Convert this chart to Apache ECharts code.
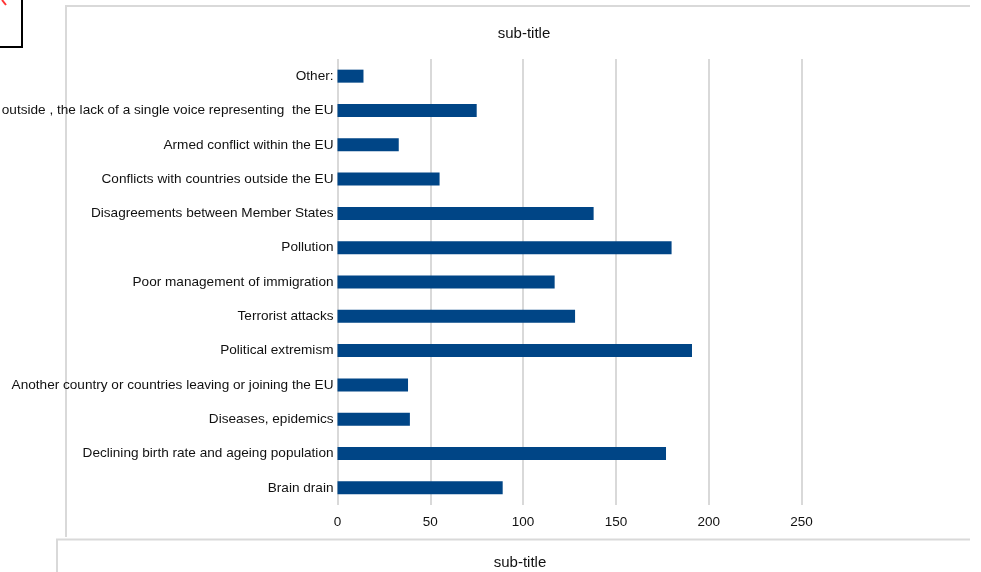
<!DOCTYPE html>
<html>
<head>
<meta charset="utf-8">
<script src="https://cdn.jsdelivr.net/npm/echarts@6/dist/echarts.min.js"></script>
<style>
html,body{margin:0;padding:0;background:#fff;}
#chart{width:981px;height:572px;}
</style>
</head>
<body>
<div id="chart"></div>
<script>
var categories = [
  "Brain drain",
  "Declining birth rate and ageing population",
  "Diseases, epidemics",
  "Another country or countries leaving or joining the EU",
  "Political extremism",
  "Terrorist attacks",
  "Poor management of immigration",
  "Pollution",
  "Disagreements between Member States",
  "Conflicts with countries outside the EU",
  "Armed conflict within the EU",
  "outside , the lack of a single voice representing  the EU",
  "Other:"
];
var values = [89, 177, 39, 38, 191, 128, 117, 180, 138, 55, 33, 75, 14];
var xTicks = [0, 50, 100, 150, 200, 250];
var subTitle = "sub-title";

var FONT = "'Liberation Sans', Arial, sans-serif";
var chart = echarts.init(document.getElementById('chart'), null, {renderer: 'canvas'});
chart.setOption({
  animation: false,
  backgroundColor: '#ffffff',
  grid: {left: 337.5, right: 179.5, top: 59, bottom: 67, containLabel: false, outerBoundsMode: 'none'},
  xAxis: {
    type: 'value',
    min: xTicks[0],
    max: xTicks[xTicks.length - 1],
    interval: 50,
    axisLine: {show: false},
    axisTick: {show: false},
    axisLabel: {color: '#111111', fontFamily: FONT, fontSize: 13.5, margin: 10},
    splitLine: {show: true, lineStyle: {color: '#d9d9d9', width: 2}}
  },
  yAxis: {
    type: 'category',
    data: categories,
    axisLine: {show: false},
    axisTick: {show: false},
    axisLabel: {color: '#111111', fontFamily: FONT, fontSize: 13.6, margin: 4},
    splitLine: {show: false}
  },
  series: [{
    type: 'bar',
    data: values,
    barWidth: 13,
    itemStyle: {color: '#004586'}
  }],
  graphic: [
    {type: 'polyline', silent: true, shape: {points: [[66, 537], [66, 6], [970, 6]]}, style: {stroke: '#d9d9d9', lineWidth: 2, fill: null}},
    {type: 'polyline', silent: true, shape: {points: [[57, 572], [57, 539.5], [970, 539.5]]}, style: {stroke: '#d9d9d9', lineWidth: 2, fill: null}},
    {type: 'rect', silent: true, shape: {x: -5, y: -5, width: 27, height: 52}, style: {stroke: '#000000', lineWidth: 2, fill: null}},
    {type: 'line', silent: true, shape: {x1: 2, y1: 0, x2: 6, y2: 5}, style: {stroke: '#ff3333', lineWidth: 2}},
    {type: 'text', silent: true, x: 524, y: 34, style: {text: subTitle, fill: '#111111', font: '15px ' + FONT, textAlign: 'center', textVerticalAlign: 'middle'}},
    {type: 'text', silent: true, x: 520, y: 563, style: {text: subTitle, fill: '#111111', font: '15px ' + FONT, textAlign: 'center', textVerticalAlign: 'middle'}}
  ]
});
</script>
</body>
</html>
